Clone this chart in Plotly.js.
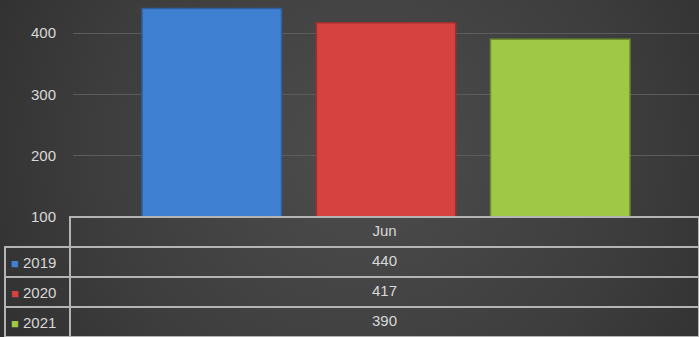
<!DOCTYPE html>
<html>
<head>
<meta charset="utf-8">
<script src="https://cdn.plot.ly/plotly-3.0.1.min.js"></script>
<style>
html,body{margin:0;padding:0;width:699px;height:337px;overflow:hidden;
background: radial-gradient(ellipse 70% 140% at 52% 45%, #4d4d4d 0%, #3d3d3d 55%, #2a2a2a 100%);}
#chart{width:699px;height:337px;}
</style>
</head>
<body>
<div id="chart"></div>
<script>
const categories = ['Jun'];
const seriesNames = ['2019', '2020', '2021'];
const values2019 = [440];
const values2020 = [417];
const values2021 = [390];
const seriesValues = [values2019, values2020, values2021];
const colors = ['#4080d2', '#d64240', '#9fc846'];
const lineColors = ['#2f5f9e', '#9e2f2d', '#6f8f2e'];
const yTicks = [100, 200, 300, 400];

const W = 699, H = 337, ROW = 30;
const FONT = 'Liberation Sans, Arial, sans-serif';

const traces = seriesNames.map((name, i) => ({
  type: 'bar',
  name: name,
  x: categories,
  y: seriesValues[i],
  base: 0,
  marker: {color: colors[i], line: {color: lineColors[i], width: 1.5}},
  hoverinfo: 'skip',
  showlegend: false,
  xaxis: 'x', yaxis: 'y'
}));

const labelCol = seriesNames.map(() => '');
const valueCol = seriesValues.map(v => String(v[0]));

traces.push({
  type: 'table',
  domain: {x: [5/W, 1], y: [0, 4*ROW/H]},
  columnwidth: [65, 629],
  header: {
    values: ['', categories[0]],
    align: ['left', 'center'],
    height: ROW,
    fill: {color: 'rgba(0,0,0,0)'},
    line: {color: ['rgba(0,0,0,0)', '#b4b4b4'], width: 1.5},
    font: {family: FONT, size: 15, color: '#d9d9d9'}
  },
  cells: {
    values: [labelCol, valueCol],
    align: ['left', 'center'],
    height: ROW,
    fill: {color: 'rgba(0,0,0,0)'},
    line: {color: '#b4b4b4', width: 1.5},
    font: {family: FONT, size: 15, color: '#d9d9d9'}
  }
});

const annotations = seriesNames.map((n, i) => ({
  xref: 'paper', yref: 'paper',
  x: 9/W, y: 1 - (H - 3*ROW + i*ROW + ROW/2) / H,
  xanchor: 'left', yanchor: 'middle',
  showarrow: false,
  text: '<span style="color:' + colors[i] + ';font-size:13px">■</span> ' + n,
  font: {family: FONT, size: 15, color: '#d9d9d9'}
}));

const layout = {
  width: W, height: H,
  margin: {l: 0, r: 0, t: 0, b: 0},
  paper_bgcolor: 'rgba(0,0,0,0)',
  plot_bgcolor: 'rgba(0,0,0,0)',
  barmode: 'group',
  bargap: 0.165,
  bargroupgap: 0.2,
  showlegend: false,
  font: {family: FONT, color: '#d9d9d9', size: 15},
  annotations: annotations,
  xaxis: {
    domain: [73/W, 1],
    showticklabels: false, showgrid: false, zeroline: false, showline: false,
    automargin: false
  },
  yaxis: {
    domain: [4*ROW/H, 1],
    range: [100, 454],
    tickvals: yTicks,
    showgrid: true, gridcolor: '#5c5c5c', gridwidth: 1,
    zeroline: false, showline: false,
    ticks: '', ticklabelstandoff: 16,
    tickfont: {size: 15, color: '#d9d9d9'},
    automargin: false
  }
};

Plotly.newPlot('chart', traces, layout, {staticPlot: true, displayModeBar: false});
</script>
</body>
</html>
